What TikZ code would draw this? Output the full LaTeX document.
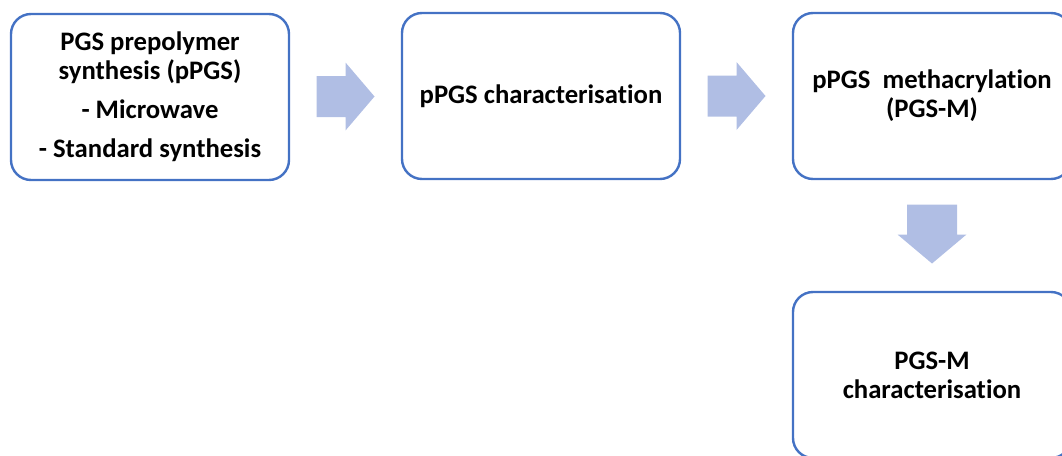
\documentclass[tikz,border=0pt]{standalone}
\usepackage{fontspec}
\setmainfont{Carlito}[Ligatures=NoCommon]
\usetikzlibrary{calc}
\definecolor{boxline}{RGB}{68,114,196}
\definecolor{arrowfill}{RGB}{176,190,228}
\tikzset{
  stage/.style={draw=boxline, line width=2.4pt, rounded corners=20pt,
    minimum width=278pt, minimum height=166pt, align=center, inner sep=4pt,
    font=\fontsize{26.7}{29}\selectfont\bfseries},
  blockarrow/.style={fill=arrowfill, draw=none}
}
\begin{document}
\begin{tikzpicture}[x=1pt, y=-1pt]
  \useasboundingbox (0,0) rectangle (1062,455);
  \clip (0,0) rectangle (1062,455);

  \node[stage] (prep) at (150,97)
    {PGS prepolymer\\synthesis (pPGS)\\[10pt]- Microwave\\[10pt]- Standard synthesis};
  \node[stage] (char) at (541,96) {pPGS characterisation};
  \node[stage] (meth) at (932,96) {pPGS\ \ methacrylation\\(PGS-M)};
  \node[stage] (mchar) at (932,375) {PGS-M\\characterisation};

  % right-pointing block arrows between the stages
  \fill[blockarrow, shift={($(prep.east)!0.5!(char.west)$)}]
    (-29,-20.5) -- (0,-20.5) -- (0,-34) -- (29,0) -- (0,34) -- (0,20.5) -- (-29,20.5) -- cycle;
  \fill[blockarrow, shift={($(char.east)!0.5!(meth.west)$)}]
    (-29,-20.5) -- (0,-20.5) -- (0,-34) -- (29,0) -- (0,34) -- (0,20.5) -- (-29,20.5) -- cycle;
  % downward block arrow
  \fill[blockarrow, shift={($(meth.south)!0.5!(mchar.north)$)}]
    (-25,-31) -- (25,-31) -- (25,-1) -- (34.5,-1) -- (0,28) -- (-34.5,-1) -- (-25,-1) -- cycle;
\end{tikzpicture}
\end{document}
